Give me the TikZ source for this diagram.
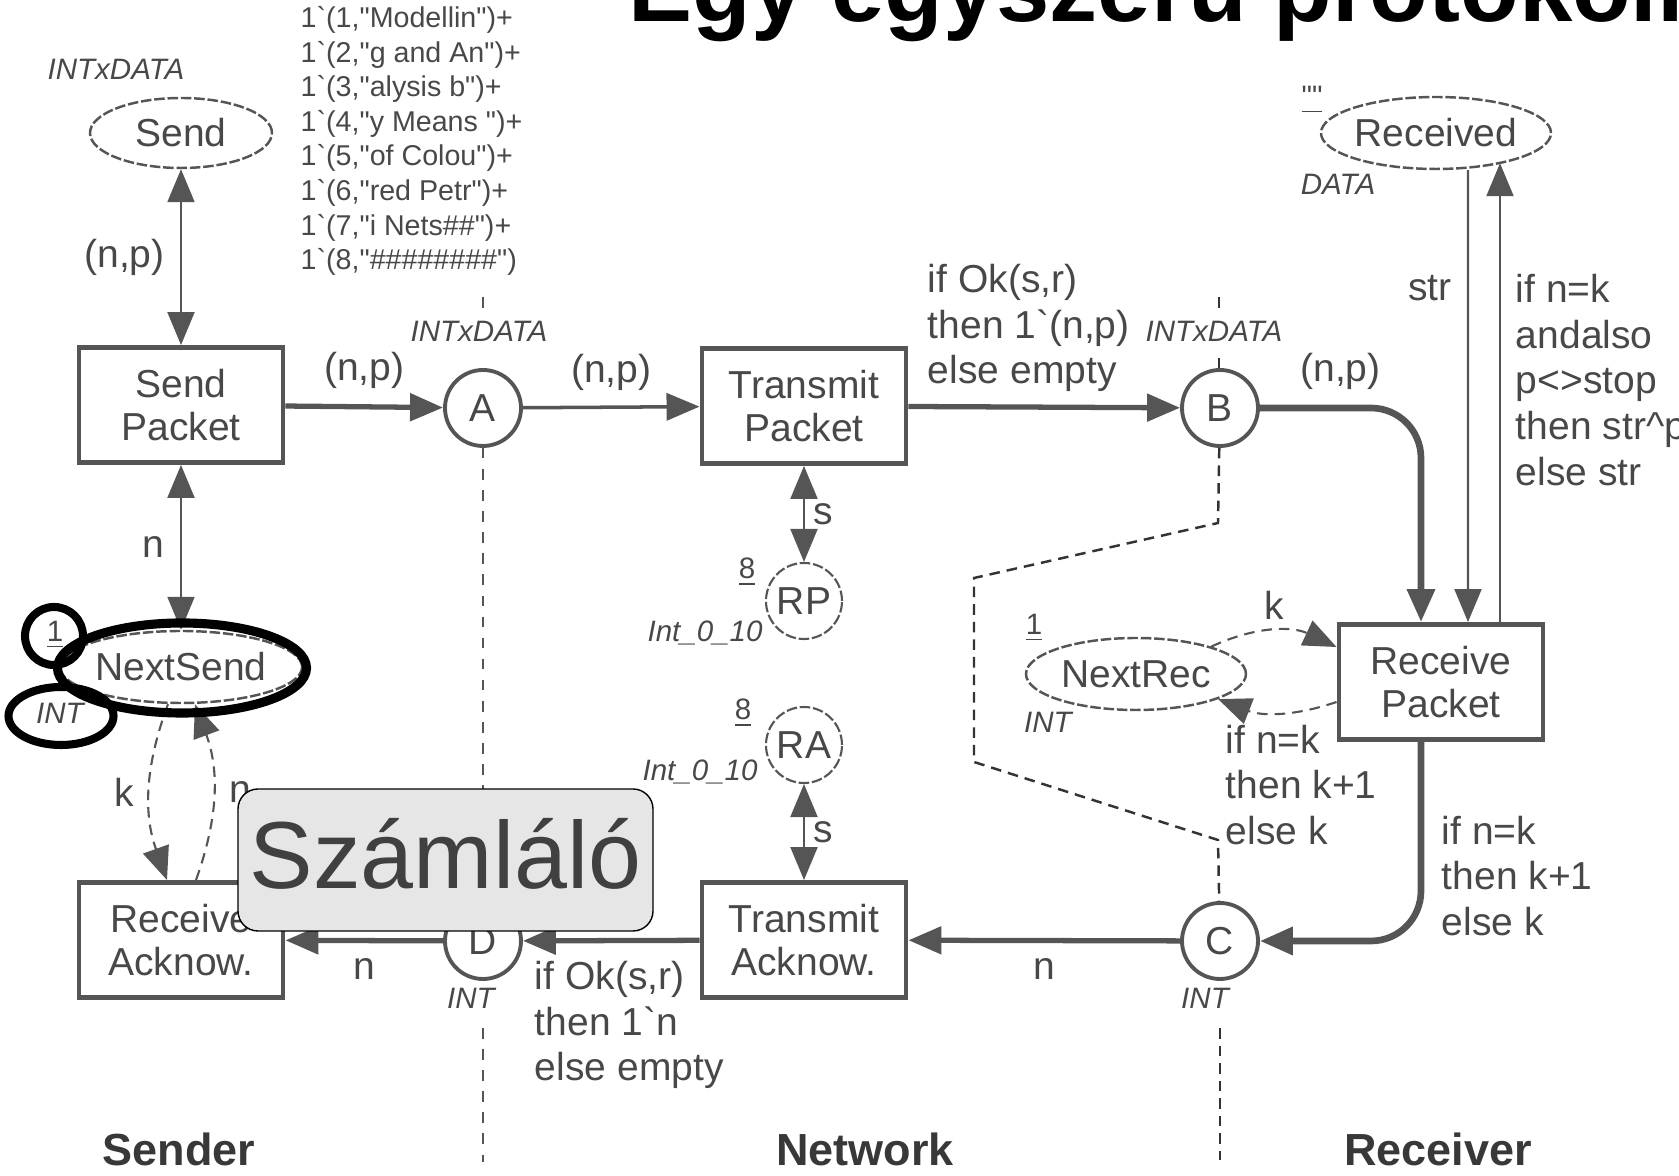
\documentclass[tikz,border=0pt]{standalone}
\usepackage{fontspec}
\setmainfont{Liberation Sans}[Ligatures=TeXOff]
\usetikzlibrary{arrows.meta,shapes.geometric}
\definecolor{cpnline}{RGB}{85,85,85}
\definecolor{cpntext}{RGB}{72,72,72}
\definecolor{notefill}{RGB}{230,230,230}
\definecolor{notetext}{RGB}{64,64,64}

\begin{document}
\begin{tikzpicture}[x=1cm,y=1cm,
  trans/.style={draw=cpnline,fill=white,line width=1.4pt,minimum width=2.04cm,minimum height=1.15cm,inner sep=0pt,align=center,text=cpntext,font=\fontsize{11.1}{12.3}\selectfont},
  place/.style={circle,draw=cpnline,fill=white,line width=1.1pt,minimum size=.76cm,inner sep=0pt,text=cpntext,font=\fontsize{11.1}{12.5}\selectfont},
  oval/.style={ellipse,draw=cpnline,dash pattern=on 3pt off .8pt,line width=.7pt,fill=white,inner sep=0pt,text=cpntext,font=\fontsize{11.1}{12.5}\selectfont},
  lbl/.style={text=cpntext,inner sep=1.5pt,align=left,font=\fontsize{11.1}{13}\selectfont},
  typ/.style={text=cpntext,inner sep=0pt,font=\fontsize{8.4}{10}\selectfont\itshape},
  tok/.style={text=cpntext,inner sep=0pt,font=\fontsize{8.4}{10}\selectfont},
  part/.style={text=black!78,inner sep=0pt,font=\fontsize{12.8}{14}\selectfont\bfseries},
  arc/.style={draw=cpnline,line width=.6pt,>={Triangle[length=3.3mm,width=2.7mm]}},
  hv/.style={arc,line width=1.5pt},
  dasharc/.style={arc,densely dashed},
  sep/.style={draw=cpnline,dashed,line width=.5pt},
  sepb/.style={draw=black!80,densely dashed,line width=.7pt},
  ring/.style={ellipse,draw=black,line width=2.6pt,inner sep=0pt}]
\useasboundingbox (0,0) rectangle (16.79,-11.76);
\clip (0,0) rectangle (16.79,-11.76);

% title
\node[anchor=base west,inner sep=0pt,font=\fontsize{27.3}{30}\selectfont\bfseries] (title) at(6.28,-0.22) {Egy egyszerű protokoll};

% places and transitions
\node[oval,minimum width=1.82cm,minimum height=.70cm] (send) at(1.81,-1.33) {Send};
\node[oval,minimum width=2.06cm,minimum height=.72cm] (received) at(14.36,-1.33) {Received};
\node[trans] (sendpkt) at(1.81,-4.05) {Send\\Packet};
\node[trans] (transpkt) at(8.04,-4.06) {Transmit\\Packet};
\node[trans] (recpkt) at(14.41,-6.82) {Receive\\Packet};
\node[trans] (recack) at(1.81,-9.40) {Receive\\Acknow.};
\node[trans] (transack) at(8.04,-9.40) {Transmit\\Acknow.};
\node[place] (A) at(4.83,-4.08) {A};
\node[place] (B) at(12.20,-4.08) {B};
\node[place] (C) at(12.20,-9.41) {C};
\node[place] (D) at(4.83,-9.41) {D};
\node[place,line width=.6pt,dash pattern=on 3pt off .8pt] (RP) at(8.04,-6.01) {RP};
\node[place,line width=.6pt,dash pattern=on 3pt off .8pt] (RA) at(8.04,-7.45) {RA};
\node[oval,minimum width=2.2cm,minimum height=.72cm] (nextsend) at(1.81,-6.67) {NextSend};
\node[oval,minimum width=2.2cm,minimum height=.72cm] (nextrec) at(11.36,-6.74) {NextRec};

% colour sets and initial markings
\node[typ] (tsend) at(1.16,-0.69) {INTxDATA};
\node[typ] (tA) at(4.79,-3.31) {INTxDATA};
\node[typ] (tB) at(12.14,-3.31) {INTxDATA};
\node[typ] (trec) at(13.38,-1.84) {DATA};
\node[tok] (irec) at(13.12,-1.00) {\underline{""}};
\node[tok] (isend) at(0.55,-6.35) {\underline{1}};
\node[typ] (tsend2) at(0.60,-7.13) {INT};
\node[tok] (inrec) at(10.34,-6.28) {\underline{1}};
\node[typ] (tnrec) at(10.48,-7.22) {INT};
\node[tok] (iRP) at(7.47,-5.72) {\underline{8}};
\node[typ] (tRP) at(7.05,-6.33) {Int\_0\_10};
\node[tok] (iRA) at(7.43,-7.13) {\underline{8}};
\node[typ] (tRA) at(7.00,-7.72) {Int\_0\_10};
\node[typ] (tC) at(12.05,-9.98) {INT};
\node[typ] (tD) at(4.71,-9.98) {INT};
\node[tok,align=left,anchor=west,font=\fontsize{8.15}{9.84}\selectfont] (isend0) at(3.00,-1.41) {1`(1,"Modellin")+\\1`(2,"g and An")+\\1`(3,"alysis b")+\\1`(4,"y Means ")+\\1`(5,"of Colou")+\\1`(6,"red Petr")+\\1`(7,"i Nets\#\#")+\\1`(8,"\#\#\#\#\#\#\#\#")};

% separators
\draw[sep] (4.83,-2.97) -- (4.83,-3.08);
\draw[sep] (A) -- (D);
\draw[sep] (4.83,-10.28) -- (4.83,-11.62);
\draw[sepb] (12.19,-2.97) -- (12.19,-3.08);
\draw[sepb] (12.19,-3.58) -- (12.19,-3.68);
\draw[sepb] (B) -- (12.18,-5.23) -- (9.74,-5.78) -- (9.74,-7.62) -- (12.18,-8.40) -- (C);
\draw[sepb] (12.20,-10.28) -- (12.20,-11.60);

% arcs
\draw[arc,<->] (send) -- node[lbl,midway,left=1mm]{(n,p)} (sendpkt);
\draw[arc,<->] (sendpkt) -- node[lbl,midway,left=1mm]{n} (nextsend);
\draw[dasharc,->] ([xshift=-1.3mm]nextsend.south) to[bend right=20] node[lbl,midway,left=1mm]{k} ([xshift=-1.4mm]recack.north);
\draw[dasharc,->] ([xshift=1.5mm]recack.north) to[bend right=20] node[lbl,midway,right=1mm]{n} ([xshift=1.4mm]nextsend.south);
\draw[hv,->] (sendpkt) -- node[lbl,midway,above=1mm]{(n,p)} (A);
\draw[arc,line width=1pt,->] (A) -- node[lbl,midway,above=1mm]{(n,p)} (transpkt);
\draw[hv,->] (transpkt) -- (B);
\node[lbl,anchor=west] (okp) at(9.22,-3.28) {if Ok(s,r)\\then 1`(n,p)\\else empty};
\draw[arc,<->] (transpkt) -- node[lbl,midway,right=.3mm]{s} (RP);
\draw[arc,<->] (RA) -- node[lbl,midway,right=.3mm]{s} (transack);
\draw[hv,line width=1.9pt,->,rounded corners=5mm] (B) -| node[lbl,pos=.25,above=1mm]{(n,p)} ([xshift=-2mm]recpkt.north);
\draw[arc,->] ([xshift=3.2mm]received.south) -- node[lbl,pos=.26,left=1mm]{str} ([xshift=2.7mm]recpkt.north);
\draw[arc,->] ([xshift=5.9mm]recpkt.north) -- ([xshift=5.9mm]recpkt.north |- received.-24);
\node[lbl,anchor=west] (strp) at(15.10,-3.80) {if n=k\\andalso\\p<>stop\\then str\textasciicircum p\\else str};
\draw[dasharc,->] (nextrec.20) to[bend left=25] node[lbl,midway,above=.5mm]{k} ([yshift=3.5mm]recpkt.west);
\draw[dasharc,->] ([yshift=-2mm]recpkt.west) to[bend left=20] (nextrec.-17);
\node[lbl,anchor=west] (nk1) at(12.20,-7.85) {if n=k\\then k+1\\else k};
\draw[hv,line width=1.9pt,->,rounded corners=5mm] ([xshift=-2mm]recpkt.south) |- (C);
\node[lbl,anchor=west] (nk2) at(14.36,-8.76) {if n=k\\then k+1\\else k};
\draw[hv,->] (C) -- node[lbl,midway,below=1mm]{n} (transack);
\draw[hv,->] (transack) -- (D);
\node[lbl,anchor=west] (okn) at(5.29,-10.25) {if Ok(s,r)\\then 1`n\\else empty};
\draw[hv,->] (D) -- node[lbl,midway,below=1mm]{n} (recack);

% highlights on NextSend
\node[ring,minimum width=2.49cm,minimum height=.90cm] (ringnext) at(1.82,-6.68) {};
\node[ring,line width=2.3pt,minimum width=.58cm,minimum height=.58cm] (ringone) at(0.54,-6.36) {};
\node[ring,line width=2.3pt,minimum width=1.05cm,minimum height=.58cm] (ringint) at(0.61,-7.16) {};

% module parts
\node[part] (sender) at(1.79,-11.49) {Sender};
\node[part] (network) at(8.65,-11.49) {Network};
\node[part] (receiver) at(14.38,-11.49) {Receiver};

% note
\node[draw=black,line width=.4pt,rounded corners=2mm,fill=notefill,minimum width=4.15cm,minimum height=1.42cm,inner sep=0pt,text depth=.14cm,text=notetext,font=\fontsize{27.1}{30}\selectfont] (note) at(4.455,-8.60) {Számláló};
\end{tikzpicture}
\end{document}
